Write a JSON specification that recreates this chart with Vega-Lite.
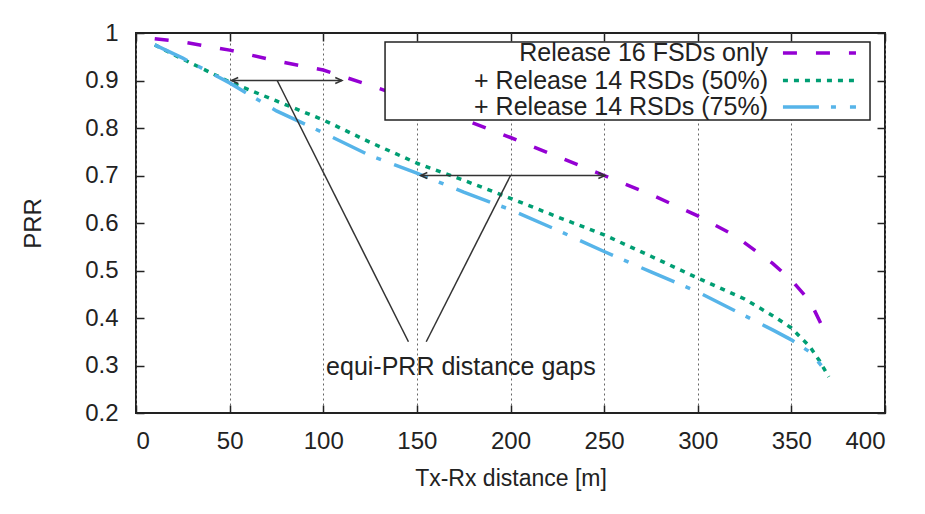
{
  "$schema": "https://vega.github.io/schema/vega-lite/v6.json",
  "width": 749,
  "height": 380,
  "autosize": {"type": "none"},
  "padding": {"left": 136, "top": 33, "right": 40, "bottom": 101},
  "background": "white",
  "config": {
    "font": "Liberation Sans",
    "view": {"stroke": "#222", "strokeWidth": 2}
  },
  "datasets": {
    "curves": [
      {"series": "Release 16 FSDs only", "x": 10, "y": 0.988},
      {"series": "Release 16 FSDs only", "x": 25, "y": 0.981},
      {"series": "Release 16 FSDs only", "x": 50, "y": 0.964},
      {"series": "Release 16 FSDs only", "x": 75, "y": 0.941},
      {"series": "Release 16 FSDs only", "x": 100, "y": 0.922},
      {"series": "Release 16 FSDs only", "x": 125, "y": 0.89},
      {"series": "Release 16 FSDs only", "x": 150, "y": 0.855},
      {"series": "Release 16 FSDs only", "x": 175, "y": 0.818},
      {"series": "Release 16 FSDs only", "x": 200, "y": 0.78},
      {"series": "Release 16 FSDs only", "x": 225, "y": 0.74},
      {"series": "Release 16 FSDs only", "x": 250, "y": 0.7},
      {"series": "Release 16 FSDs only", "x": 275, "y": 0.66},
      {"series": "Release 16 FSDs only", "x": 300, "y": 0.615},
      {"series": "Release 16 FSDs only", "x": 320, "y": 0.573},
      {"series": "Release 16 FSDs only", "x": 340, "y": 0.515},
      {"series": "Release 16 FSDs only", "x": 350, "y": 0.48},
      {"series": "Release 16 FSDs only", "x": 360, "y": 0.435},
      {"series": "Release 16 FSDs only", "x": 368, "y": 0.37},
      {"series": "+ Release 14 RSDs (50%)", "x": 10, "y": 0.975},
      {"series": "+ Release 14 RSDs (50%)", "x": 25, "y": 0.945},
      {"series": "+ Release 14 RSDs (50%)", "x": 50, "y": 0.897},
      {"series": "+ Release 14 RSDs (50%)", "x": 75, "y": 0.857},
      {"series": "+ Release 14 RSDs (50%)", "x": 100, "y": 0.817},
      {"series": "+ Release 14 RSDs (50%)", "x": 125, "y": 0.77},
      {"series": "+ Release 14 RSDs (50%)", "x": 150, "y": 0.726},
      {"series": "+ Release 14 RSDs (50%)", "x": 175, "y": 0.69},
      {"series": "+ Release 14 RSDs (50%)", "x": 200, "y": 0.652},
      {"series": "+ Release 14 RSDs (50%)", "x": 225, "y": 0.613},
      {"series": "+ Release 14 RSDs (50%)", "x": 250, "y": 0.575},
      {"series": "+ Release 14 RSDs (50%)", "x": 275, "y": 0.53},
      {"series": "+ Release 14 RSDs (50%)", "x": 300, "y": 0.484},
      {"series": "+ Release 14 RSDs (50%)", "x": 325, "y": 0.44},
      {"series": "+ Release 14 RSDs (50%)", "x": 340, "y": 0.405},
      {"series": "+ Release 14 RSDs (50%)", "x": 350, "y": 0.379},
      {"series": "+ Release 14 RSDs (50%)", "x": 360, "y": 0.339},
      {"series": "+ Release 14 RSDs (50%)", "x": 365, "y": 0.31},
      {"series": "+ Release 14 RSDs (50%)", "x": 370, "y": 0.276},
      {"series": "+ Release 14 RSDs (75%)", "x": 10, "y": 0.975},
      {"series": "+ Release 14 RSDs (75%)", "x": 25, "y": 0.947},
      {"series": "+ Release 14 RSDs (75%)", "x": 50, "y": 0.895},
      {"series": "+ Release 14 RSDs (75%)", "x": 75, "y": 0.836},
      {"series": "+ Release 14 RSDs (75%)", "x": 100, "y": 0.79},
      {"series": "+ Release 14 RSDs (75%)", "x": 125, "y": 0.742},
      {"series": "+ Release 14 RSDs (75%)", "x": 150, "y": 0.705},
      {"series": "+ Release 14 RSDs (75%)", "x": 175, "y": 0.665},
      {"series": "+ Release 14 RSDs (75%)", "x": 200, "y": 0.628},
      {"series": "+ Release 14 RSDs (75%)", "x": 225, "y": 0.585},
      {"series": "+ Release 14 RSDs (75%)", "x": 250, "y": 0.54},
      {"series": "+ Release 14 RSDs (75%)", "x": 275, "y": 0.497},
      {"series": "+ Release 14 RSDs (75%)", "x": 300, "y": 0.455},
      {"series": "+ Release 14 RSDs (75%)", "x": 325, "y": 0.405},
      {"series": "+ Release 14 RSDs (75%)", "x": 340, "y": 0.375},
      {"series": "+ Release 14 RSDs (75%)", "x": 350, "y": 0.354},
      {"series": "+ Release 14 RSDs (75%)", "x": 360, "y": 0.328},
      {"series": "+ Release 14 RSDs (75%)", "x": 366, "y": 0.3}
    ],
    "legendBox": [
      {"x": 133, "x2": 392, "y": 0.981, "y2": 0.817}
    ],
    "legendLabels": [
      {"series": "Release 16 FSDs only", "x": 337.5, "y": 0.958},
      {"series": "+ Release 14 RSDs (50%)", "x": 337.5, "y": 0.9},
      {"series": "+ Release 14 RSDs (75%)", "x": 337.5, "y": 0.844}
    ],
    "legendSamples": [
      {"series": "Release 16 FSDs only", "x": 345.5, "y": 0.958},
      {"series": "Release 16 FSDs only", "x": 384.5, "y": 0.958},
      {"series": "+ Release 14 RSDs (50%)", "x": 345.5, "y": 0.9},
      {"series": "+ Release 14 RSDs (50%)", "x": 384.5, "y": 0.9},
      {"series": "+ Release 14 RSDs (75%)", "x": 345.5, "y": 0.844},
      {"series": "+ Release 14 RSDs (75%)", "x": 384.5, "y": 0.844}
    ],
    "arrows": [
      {"x": 51, "x2": 110, "y": 0.9},
      {"x": 152, "x2": 250.5, "y": 0.7}
    ],
    "heads": [
      {"x": 51, "y": 0.9, "dir": "left"},
      {"x": 110, "y": 0.9, "dir": "right"},
      {"x": 152, "y": 0.7, "dir": "left"},
      {"x": 250.5, "y": 0.7, "dir": "right"}
    ],
    "pointers": [
      {"x": 75.4, "y": 0.9, "x2": 145.5, "y2": 0.35},
      {"x": 200, "y": 0.7, "x2": 155, "y2": 0.35}
    ],
    "labels": [
      {"x": 173.5, "y": 0.297, "text": "equi-PRR distance gaps"}
    ]
  },
  "layer": [
    {
      "data": {"name": "curves"},
      "mark": {"type": "line", "strokeWidth": 3.5, "strokeCap": "butt", "clip": true},
      "encoding": {
        "x": {
          "field": "x", "type": "quantitative",
          "scale": {"domain": [0, 400], "nice": false},
          "axis": {
            "orient": "bottom",
            "values": [0, 50, 100, 150, 200, 250, 300, 350, 400],
            "grid": true, "gridDash": [2, 3], "gridColor": "#666", "gridWidth": 1,
            "domain": false,
            "tickSize": -8, "tickColor": "#222", "tickWidth": 1.5,
            "labelFontSize": 24, "labelColor": "#222", "labelPadding": 24,
            "title": "Tx-Rx distance [m]", "titleFontSize": 23, "titleFontWeight": "normal",
            "titleColor": "#222", "titlePadding": 14
          }
        },
        "y": {
          "field": "y", "type": "quantitative",
          "scale": {"domain": [0.2, 1], "nice": false, "zero": false},
          "axis": {
            "orient": "left",
            "values": [0.2, 0.3, 0.4, 0.5, 0.6, 0.7, 0.8, 0.9, 1],
            "format": ".1~f",
            "grid": false, "domain": false,
            "tickSize": -8, "tickColor": "#222", "tickWidth": 1.5,
            "labelFontSize": 24, "labelColor": "#222", "labelPadding": 26,
            "title": "PRR", "titleFontSize": 24, "titleFontWeight": "normal",
            "titleColor": "#222", "titlePadding": 39
          }
        },
        "color": {
          "field": "series", "type": "nominal", "legend": null,
          "scale": {
            "domain": ["Release 16 FSDs only", "+ Release 14 RSDs (50%)", "+ Release 14 RSDs (75%)"],
            "range": ["#9400D3", "#009E73", "#56B4E9"]
          }
        },
        "strokeDash": {
          "field": "series", "type": "nominal", "legend": null,
          "scale": {
            "domain": ["Release 16 FSDs only", "+ Release 14 RSDs (50%)", "+ Release 14 RSDs (75%)"],
            "range": [[14, 19], [5, 6], [36, 12, 5, 14]]
          }
        }
      }
    },
    {
      "data": {"name": "arrows"},
      "mark": {"type": "rule", "color": "#333", "strokeWidth": 1.5},
      "encoding": {
        "x": {"field": "x", "type": "quantitative",
          "axis": {"orient": "top", "values": [0, 50, 100, 150, 200, 250, 300, 350, 400], "labels": false, "grid": false, "domain": false, "tickSize": -8, "tickColor": "#222", "tickWidth": 1.5, "title": null}},
        "x2": {"field": "x2"},
        "y": {"field": "y", "type": "quantitative",
          "axis": {"orient": "right", "values": [0.2, 0.3, 0.4, 0.5, 0.6, 0.7, 0.8, 0.9, 1], "labels": false, "grid": false, "domain": false, "tickSize": -8, "tickColor": "#222", "tickWidth": 1.5, "title": null}}
      }
    },
    {
      "data": {"name": "pointers"},
      "mark": {"type": "rule", "color": "#333", "strokeWidth": 1.5},
      "encoding": {
        "x": {"field": "x", "type": "quantitative", "axis": null},
        "y": {"field": "y", "type": "quantitative", "axis": null},
        "x2": {"field": "x2"},
        "y2": {"field": "y2"}
      }
    },
    {
      "data": {"name": "heads"},
      "mark": {"type": "point", "filled": false, "stroke": "#333", "strokeWidth": 1.5, "size": 180, "opacity": 1},
      "encoding": {
        "x": {"field": "x", "type": "quantitative", "axis": null},
        "y": {"field": "y", "type": "quantitative", "axis": null},
        "shape": {
          "field": "dir", "type": "nominal", "legend": null,
          "scale": {"domain": ["left", "right"], "range": ["M1,-0.45L0,0L1,0.45", "M-1,-0.45L0,0L-1,0.45"]}
        }
      }
    },
    {
      "data": {"name": "labels"},
      "mark": {"type": "text", "fontSize": 25, "color": "#222", "align": "center", "baseline": "middle"},
      "encoding": {
        "x": {"field": "x", "type": "quantitative", "axis": null},
        "y": {"field": "y", "type": "quantitative", "axis": null},
        "text": {"field": "text"}
      }
    },
    {
      "data": {"name": "legendBox"},
      "mark": {"type": "rect", "fill": "white", "stroke": "#222", "strokeWidth": 1.5},
      "encoding": {
        "x": {"field": "x", "type": "quantitative", "axis": null},
        "x2": {"field": "x2"},
        "y": {"field": "y", "type": "quantitative", "axis": null},
        "y2": {"field": "y2"}
      }
    },
    {
      "data": {"name": "legendLabels"},
      "mark": {"type": "text", "fontSize": 25, "color": "#222", "align": "right", "baseline": "middle"},
      "encoding": {
        "x": {"field": "x", "type": "quantitative", "axis": null},
        "y": {"field": "y", "type": "quantitative", "axis": null},
        "text": {"field": "series"}
      }
    },
    {
      "data": {"name": "legendSamples"},
      "mark": {"type": "line", "strokeWidth": 3.5, "strokeCap": "butt"},
      "encoding": {
        "x": {"field": "x", "type": "quantitative", "axis": null},
        "y": {"field": "y", "type": "quantitative", "axis": null},
        "color": {"field": "series", "type": "nominal", "legend": null},
        "strokeDash": {"field": "series", "type": "nominal", "legend": null}
      }
    }
  ],
  "resolve": {"axis": {"x": "independent", "y": "independent"}}
}
